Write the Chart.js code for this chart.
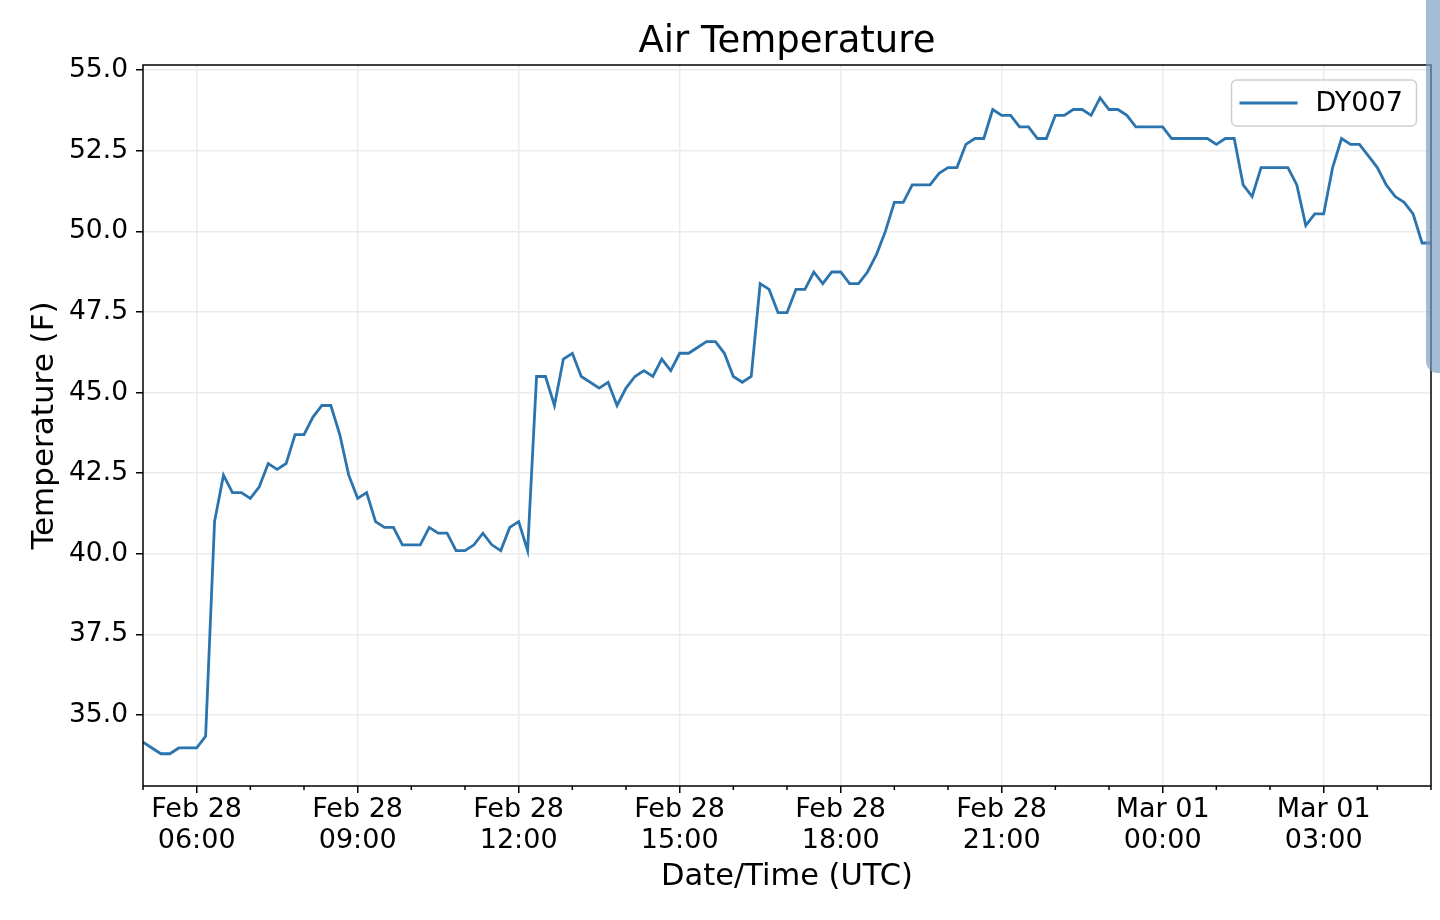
<!DOCTYPE html>
<html lang="en">
<head>
<meta charset="utf-8">
<title>Air Temperature</title>
<script src="https://cdn.jsdelivr.net/npm/chart.js@4.4.1/dist/chart.umd.min.js"></script>
<style>
  html, body { margin: 0; padding: 0; background: #fff; }
  #wrap { position: relative; width: 1440px; height: 920px; overflow: hidden; }
  #scrollbar { position: absolute; left: 1426px; top: 0; width: 14px; height: 373px;
               background: rgba(122, 156, 194, 0.68); border-bottom-left-radius: 12px; }
</style>
</head>
<body>
<div id="wrap">
  <canvas id="chart" width="1440" height="920"></canvas>
  <div id="scrollbar"></div>
</div>
<script>
// station and sampling
const seriesName = "DY007"
const startHour = 5      // Feb 28 05:00 UTC
const stepMinutes = 10

// air temperature (F), one reading every 10 minutes, one row per hour
const temps = [
  34.16, 33.98, 33.80, 33.80, 33.98, 33.98,   // 05
  33.98, 34.34, 41.00, 42.44, 41.90, 41.90,   // 06
  41.72, 42.08, 42.80, 42.62, 42.80, 43.70,   // 07
  43.70, 44.24, 44.60, 44.60, 43.70, 42.44,   // 08
  41.72, 41.90, 41.00, 40.82, 40.82, 40.28,   // 09
  40.28, 40.28, 40.82, 40.64, 40.64, 40.10,   // 10
  40.10, 40.28, 40.64, 40.28, 40.10, 40.82,   // 11
  41.00, 40.10, 45.50, 45.50, 44.60, 46.04,   // 12
  46.22, 45.50, 45.32, 45.14, 45.32, 44.60,   // 13
  45.14, 45.50, 45.68, 45.50, 46.04, 45.68,   // 14
  46.22, 46.22, 46.40, 46.58, 46.58, 46.22,   // 15
  45.50, 45.32, 45.50, 48.38, 48.20, 47.48,   // 16
  47.48, 48.20, 48.20, 48.74, 48.38, 48.74,   // 17
  48.74, 48.38, 48.38, 48.74, 49.28, 50.00,   // 18
  50.90, 50.90, 51.44, 51.44, 51.44, 51.80,   // 19
  51.98, 51.98, 52.70, 52.88, 52.88, 53.78,   // 20
  53.60, 53.60, 53.24, 53.24, 52.88, 52.88,   // 21
  53.60, 53.60, 53.78, 53.78, 53.60, 54.14,   // 22
  53.78, 53.78, 53.60, 53.24, 53.24, 53.24,   // 23
  53.24, 52.88, 52.88, 52.88, 52.88, 52.88,   // Mar 01 00
  52.70, 52.88, 52.88, 51.44, 51.08, 51.98,   // 01
  51.98, 51.98, 51.98, 51.44, 50.18, 50.54,   // 02
  50.54, 51.98, 52.88, 52.70, 52.70, 52.34,   // 03
  51.98, 51.44, 51.08, 50.90, 50.54, 49.64,   // 04
  49.64                                       // 05
]

// axis ticks (x in hours since Feb 28 00:00)
const majorHours = [6, 9, 12, 15, 18, 21, 24, 27]
const tickDates = ["Feb 28", "Feb 28", "Feb 28", "Feb 28", "Feb 28", "Feb 28", "Mar 01", "Mar 01"]
const tickTimes = ["06:00", "09:00", "12:00", "15:00", "18:00", "21:00", "00:00", "03:00"]
const yTicks = [35, 37.5, 40, 42.5, 45, 47.5, 50, 52.5, 55]

const points = temps.map((t, i) => ({ x: startHour + i * stepMinutes / 60, y: t }))

Chart.defaults.font.family = "'DejaVu Sans', sans-serif"
Chart.defaults.color = "#000"

// box around the axes, minor hour ticks and the legend frame
const frame = {
  id: "frame",
  afterDatasetsDraw(chart) {
    const { ctx, chartArea: a } = chart
    const x = chart.scales.x
    ctx.save()
    ctx.strokeStyle = "#000"
    ctx.lineWidth = 1.5
    ctx.beginPath()
    ctx.rect(a.left, a.top, a.right - a.left, a.bottom - a.top)
    for (let h = x.min; h <= x.max; h++) {
      if (majorHours.includes(h)) continue
      const px = x.getPixelForValue(h)
      ctx.moveTo(px, a.bottom)
      ctx.lineTo(px, a.bottom + 4)
    }
    ctx.stroke()

    // legend
    const ds = chart.data.datasets[0]
    const w = 185, hgt = 46
    const left = a.right - 14.5 - w, top = a.top + 15
    ctx.beginPath()
    ctx.roundRect(left, top, w, hgt, 5)
    ctx.fillStyle = "rgba(255,255,255,0.8)"
    ctx.fill()
    ctx.strokeStyle = "#d0d0d0"
    ctx.lineWidth = 1.5
    ctx.stroke()
    ctx.beginPath()
    ctx.moveTo(left + 8, top + hgt / 2)
    ctx.lineTo(left + 66, top + hgt / 2)
    ctx.strokeStyle = ds.borderColor
    ctx.lineWidth = ds.borderWidth
    ctx.stroke()
    ctx.fillStyle = "#000"
    ctx.font = "27px 'DejaVu Sans', sans-serif"
    ctx.textBaseline = "middle"
    ctx.textAlign = "left"
    ctx.fillText(ds.label, left + 84, top + hgt / 2 + 1)
    ctx.restore()
  }
}

const gridStyle = { color: "#ebebeb", lineWidth: 1.5, tickColor: "#000", tickWidth: 1.5, tickLength: 7 }

new Chart(document.getElementById("chart"), {
  type: "line",
  data: {
    datasets: [{
      label: seriesName,
      data: points,
      borderColor: "#2b74ad",
      backgroundColor: "#2b74ad",
      borderWidth: 2.8,
      pointRadius: 0,
      tension: 0,
      fill: false
    }]
  },
  options: {
    responsive: false,
    animation: false,
    layout: { padding: { left: 0, right: 9, top: 0, bottom: 0 } },
    plugins: {
      legend: { display: false },
      tooltip: { enabled: false },
      title: {
        display: true,
        text: "Air Temperature",
        fullSize: false,
        color: "#000",
        font: { size: 37, weight: "normal", lineHeight: 1.2 },
        padding: { top: 20, bottom: 0.6 }
      }
    },
    scales: {
      x: {
        type: "linear",
        min: 5,
        max: 29,
        afterBuildTicks: s => { s.ticks = majorHours.map(v => ({ value: v })) },
        afterFit: s => { s.height = 134 },
        ticks: {
          autoSkip: false,
          maxRotation: 0,
          padding: 1,
          font: { size: 27, lineHeight: 1.16 },
          callback: v => {
            const i = majorHours.indexOf(v)
            return i < 0 ? "" : [tickDates[i], tickTimes[i]]
          }
        },
        grid: gridStyle,
        border: { display: false },
        title: { display: true, text: "Date/Time (UTC)", font: { size: 30.5 }, padding: { top: 0, bottom: 25 } }
      },
      y: {
        min: 32.8,
        max: 55.16,
        afterBuildTicks: s => { s.ticks = yTicks.map(v => ({ value: v })) },
        afterFit: s => { s.width = 143 },
        ticks: { padding: 8, font: { size: 26.5 }, callback: v => v.toFixed(1) },
        grid: gridStyle,
        border: { display: false },
        title: { display: true, text: "Temperature (F)", font: { size: 31 }, padding: { top: 26, bottom: 0 } }
      }
    }
  },
  plugins: [frame]
})
</script>
</body>
</html>
